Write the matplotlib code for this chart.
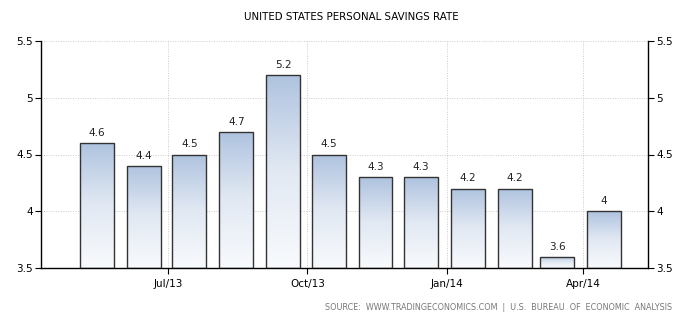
import numpy as np
import pandas as pd
import matplotlib
matplotlib.use("Agg")
import matplotlib.pyplot as plt
import matplotlib.dates as mdates
from matplotlib.colors import LinearSegmentedColormap

# Monthly personal savings rate, May 2013 - Apr 2014
months = ["2013-05", "2013-06", "2013-07", "2013-08", "2013-09", "2013-10",
          "2013-11", "2013-12", "2014-01", "2014-02", "2014-03", "2014-04"]
rates = [4.6, 4.4, 4.5, 4.7, 5.2, 4.5, 4.3, 4.3, 4.2, 4.2, 3.6, 4.0]
tick_dates = ["2013-07-01", "2013-10-01", "2014-01-01", "2014-04-01"]
tick_labels = ["Jul/13", "Oct/13", "Jan/14", "Apr/14"]
y_ticks = [3.5, 4, 4.5, 5, 5.5]
y_tick_labels = ["3.5", "4", "4.5", "5", "5.5"]

plt.rcParams["font.family"] = ["DejaVu Sans"]

fig = plt.figure(figsize=(6.85, 3.23), dpi=100)
ax = fig.add_axes([41 / 685, 1 - 268 / 323, (648 - 41) / 685, (268 - 41) / 323])

centers = [mdates.date2num(pd.Timestamp(m + "-15")) for m in months]
width = 22.4
ymin, ymax = 3.5, 5.5

cmap = LinearSegmentedColormap.from_list("bar", ["#f8fafd", "#e2e9f3", "#afc3df"])
grad = np.linspace(0, 1, 256).reshape(-1, 1)

bars = ax.bar(centers, [r - ymin for r in rates], bottom=ymin, width=width,
              facecolor="none", edgecolor="#333333", linewidth=1.0, zorder=3)
for rect, r in zip(bars, rates):
    x0 = rect.get_x()
    im = ax.imshow(grad, cmap=cmap, origin="lower", aspect="auto",
                   extent=(x0, x0 + width, ymin, r), zorder=2,
                   interpolation="bilinear")
    im.set_clip_path(rect)
    ax.text(rect.get_x() + width / 2, r + 0.045, f"{r:g}", ha="center",
            va="bottom", fontsize=7.5, color="#222222")

ax.set_xlim(mdates.date2num(pd.Timestamp("2013-04-08")),
            mdates.date2num(pd.Timestamp("2014-05-14")))
ax.set_ylim(ymin, ymax)

ax.set_xticks([mdates.date2num(pd.Timestamp(d)) for d in tick_dates])
ax.set_xticklabels(tick_labels)
ax.set_yticks(y_ticks)
ax.set_yticklabels(y_tick_labels)

ax.grid(True, linestyle=(0, (1, 1.5)), color="#cccccc", linewidth=0.7, zorder=0)
ax.set_axisbelow(True)

ax.spines["top"].set_visible(False)
for s in ["left", "right", "bottom"]:
    ax.spines[s].set_color("black")
    ax.spines[s].set_linewidth(1.0)

ax.tick_params(axis="both", direction="out", length=4, width=0.8,
               labelsize=7.5, colors="black", pad=2)
ax.tick_params(axis="y", left=True, right=True, labelleft=True, labelright=True)
ax.tick_params(axis="x", pad=4)

fig.text(351 / 685, 1 - 17 / 323, "UNITED STATES PERSONAL SAVINGS RATE",
         ha="center", va="center", fontsize=7.4, color="#000000")
fig.text(672 / 685, 1 - 308 / 323,
         "SOURCE:  WWW.TRADINGECONOMICS.COM  |  U.S.  BUREAU  OF  ECONOMIC  ANALYSIS",
         ha="right", va="center", fontsize=5.8, color="#777777")

fig.savefig("out.png", dpi=100, facecolor="white")
